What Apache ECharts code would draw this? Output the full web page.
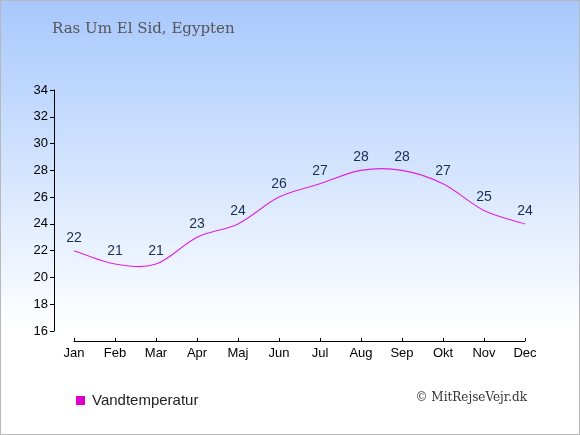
<!DOCTYPE html>
<html><head><meta charset="utf-8">
<script src="https://cdn.jsdelivr.net/npm/echarts@6/dist/echarts.min.js"></script>
<style>html,body{margin:0;padding:0;}#wrap{position:relative;width:580px;height:435px;}#c{width:580px;height:435px;}#frame{position:absolute;left:0;top:0;width:580px;height:435px;box-sizing:border-box;border:1px solid #b8b8b8;pointer-events:none;}</style>
</head><body><div id="wrap"><div id="c"></div><div id="frame"></div></div>
<script>
var categories = ['Jan','Feb','Mar','Apr','Maj','Jun','Jul','Aug','Sep','Okt','Nov','Dec'];
var waterTemp = [22,21,21,23,24,26,27,28,28,27,25,24];
var yTicks = {min:16, max:34, interval:2};
var seriesName = 'Vandtemperatur';
var lineColor = '#dd22dd';

function renderCurve(params, api){
  if (params.dataIndex !== 0) return null;
  var pts = waterTemp.map(function(v,i){ return api.coord([i, v]); });
  var n = pts.length, d = 'M' + pts[0][0] + ',' + pts[0][1];
  for (var i = 0; i < n - 1; i++) {
    var p0 = pts[i > 0 ? i - 1 : i], p1 = pts[i], p2 = pts[i + 1], p3 = pts[i + 2 < n ? i + 2 : i + 1];
    var c1x = p1[0] + (p2[0] - p0[0]) / 6, c1y = p1[1] + (p2[1] - p0[1]) / 6;
    var c2x = p2[0] - (p3[0] - p1[0]) / 6, c2y = p2[1] - (p3[1] - p1[1]) / 6;
    d += ' C' + c1x + ',' + c1y + ' ' + c2x + ',' + c2y + ' ' + p2[0] + ',' + p2[1];
  }
  return {type:'path', shape:{pathData:d}, style:{stroke:lineColor, fill:'none', lineWidth:1.1}};
}

var chart = echarts.init(document.getElementById('c'));
chart.setOption({
  animation:false,
  backgroundColor:{type:'linear',x:0,y:0,x2:0,y2:1,colorStops:[{offset:0,color:'#a7c8fd'},{offset:0.76,color:'#ffffff'},{offset:1,color:'#ffffff'}]},
  title:{text:'Ras Um El Sid, Egypten',left:52,top:22,padding:0,textStyle:{fontFamily:'DejaVu Serif',fontWeight:'normal',fontSize:15,color:'#555555'}},
  legend:{left:76,top:393,padding:0,itemWidth:9,itemHeight:9,icon:'rect',itemGap:8,textStyle:{fontFamily:'Liberation Sans',fontSize:15,color:'#222',padding:[0,0,0,2]},data:[{name:seriesName,itemStyle:{color:'#dd00cc'}}]},
  graphic:[{type:'text',right:53,top:392,style:{text:'© MitRejseVejr.dk',font:'12px "DejaVu Serif"',fill:'#333'}}],
  grid:{left:74,right:55,top:90,bottom:104},
  xAxis:{type:'category',data:categories,boundaryGap:false,offset:10,
    axisLine:{lineStyle:{color:'#000'}},axisTick:{inside:true,length:3,lineStyle:{color:'#000'}},
    axisLabel:{color:'#000',fontFamily:'Liberation Sans',fontSize:13,margin:6},splitLine:{show:false}},
  yAxis:{type:'value',min:yTicks.min,max:yTicks.max,interval:yTicks.interval,offset:20,
    axisLine:{show:true,lineStyle:{color:'#000'}},axisTick:{show:true,length:4,lineStyle:{color:'#000'}},
    axisLabel:{color:'#000',fontFamily:'Liberation Sans',fontSize:13,margin:6},splitLine:{show:false}},
  series:[
    {name:seriesName,type:'custom',renderItem:renderCurve,data:waterTemp.map(function(v,i){return [i,v];}),
      encode:{x:0,y:1},itemStyle:{color:'#dd00cc'},clip:false,silent:true},
    {name:'labels',type:'scatter',data:waterTemp,symbolSize:0.01,itemStyle:{color:'#dd00cc',opacity:1},silent:true,
      label:{show:true,position:'top',distance:6,color:'#1a2f55',opacity:1,fontFamily:'Liberation Sans',fontSize:14,formatter:function(p){return p.value;}}}
  ]
});
</script></body></html>
